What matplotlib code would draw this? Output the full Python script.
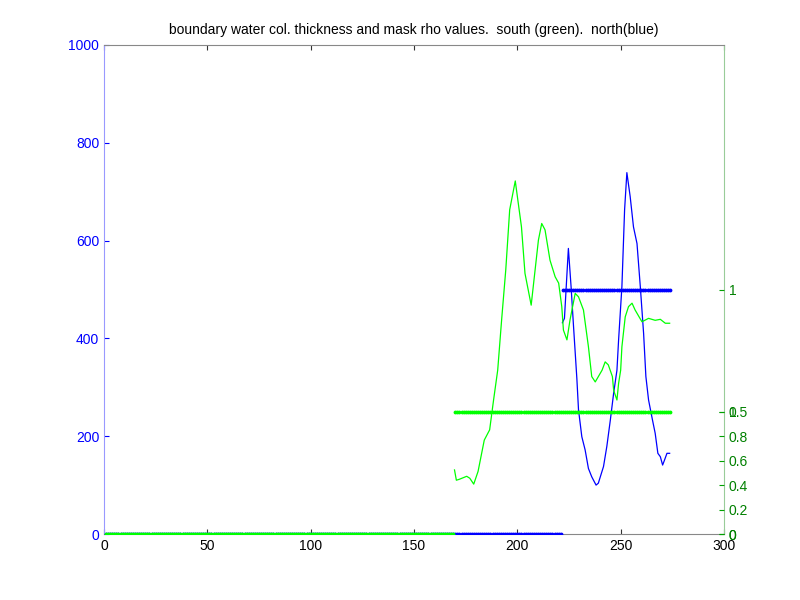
import matplotlib
matplotlib.use("Agg")
import matplotlib.pyplot as plt
import numpy as np

plt.rcParams['font.family'] = ['Liberation Sans', 'DejaVu Sans']

# water column thickness, south (green)
south_x = [169.6, 170.5, 172, 175.5, 177, 178.9, 181, 184, 186.6, 188.5, 190.5, 192.4,
           194.4, 196.3, 199, 202, 203.7, 206.7, 210.2, 211.8, 213.4, 215.8, 218.3,
           220, 221.5, 222.3, 224, 225.5, 228, 229.6, 232, 234.4, 236, 237.7, 241,
           242.5, 244, 246, 246.6, 248.2, 249, 250, 250.6, 252.2, 253.8, 255.5, 257,
           260.3, 263.5, 266.7, 269.2, 271.6, 273.7]
south_y = [131, 110, 112, 118, 114, 102, 128, 192, 213, 274, 335, 438,
           540, 663, 722, 628, 533, 468, 601, 635, 622, 560, 526,
           513, 465, 417, 397, 438, 492, 485, 458, 383, 322, 311, 335,
           352, 346, 322, 294, 274, 308, 335, 383, 444, 465, 472, 458,
           434, 441, 437, 439, 431, 431]

# water column thickness, north (blue)
north_x = [221.8, 222.8, 224.7, 226, 227.2, 228.8, 229.6, 231.2, 232.8, 234.4, 236,
           238.1, 239.2, 241.7, 243.3, 245, 246.6, 248.2, 249, 250.6, 251.9, 253,
           254.6, 256.2, 257.9, 259.5, 261.1, 262.2, 263.5, 265.4, 266.7, 268,
           269.2, 270.3, 271.2, 272.4, 273.7]
north_y = [432, 441, 584, 506, 424, 318, 254, 199, 172, 134, 117,
           100, 104, 138, 179, 233, 288, 335, 397, 506, 663, 739,
           690, 628, 594, 506, 410, 322, 274, 233, 206, 165,
           158, 141, 151, 165, 165]

# mask rho values
idx = np.arange(1, 275)
south_mask = np.where(idx >= 170, 1, 0)
north_mask = np.where(idx >= 222, 1, 0)

fig = plt.figure(figsize=(8, 6), dpi=100)
ax = fig.add_axes([0.13, 0.11, 0.775, 0.815])
ax.plot(north_x, north_y, color='#0000ff', lw=0.9)
ax.plot(south_x, south_y, color='#00ff00', lw=0.9)
ax.set_xlim(0, 300)
ax.set_ylim(0, 1000)
ax.set_xticks(np.arange(0, 301, 50))
ax.set_yticks(np.arange(0, 1001, 200))
ax.tick_params(axis='y', colors='#0000ff', direction='in', right=True, labelsize=10)
ax.tick_params(axis='x', direction='in', top=True, labelsize=10, color='#333333')
ax.tick_params(axis='y', labelcolor='#0000ff')
for s in ['top', 'bottom']:
    ax.spines[s].set_color('#888888')
ax.spines['left'].set_color('#9999ff')
ax.spines['right'].set_color('#99cc99')

# mask axis for north: 0..2 -> 1 at 500
axa = ax.twinx()
axa.plot(idx, north_mask, ls='none', marker='.', ms=3.5, color='#0000ff')
axa.set_ylim(0, 2)
axa.set_yticks([0, 0.5, 1])
axa.set_yticklabels(['0', '0.5', '1'])

# mask axis for south: 0..4 -> 1 at 250
axb = ax.twinx()
axb.plot(idx, south_mask, ls='none', marker='.', ms=3.5, color='#00ff00')
axb.set_ylim(0, 4)
axb.set_yticks(np.arange(0, 1.01, 0.2))
axb.set_yticklabels(['0', '0.2', '0.4', '0.6', '0.8', '1'])

for a in (axa, axb):
    a.set_xlim(0, 300)
    a.tick_params(axis='y', colors='#00a000', labelcolor='#008000', direction='in', labelsize=10)
    for s in a.spines.values():
        s.set_visible(False)

ax.set_title('boundary water col. thickness and mask rho values.  south (green).  north(blue)',
             fontsize=10, pad=8)

fig.savefig('out.png', dpi=100)
